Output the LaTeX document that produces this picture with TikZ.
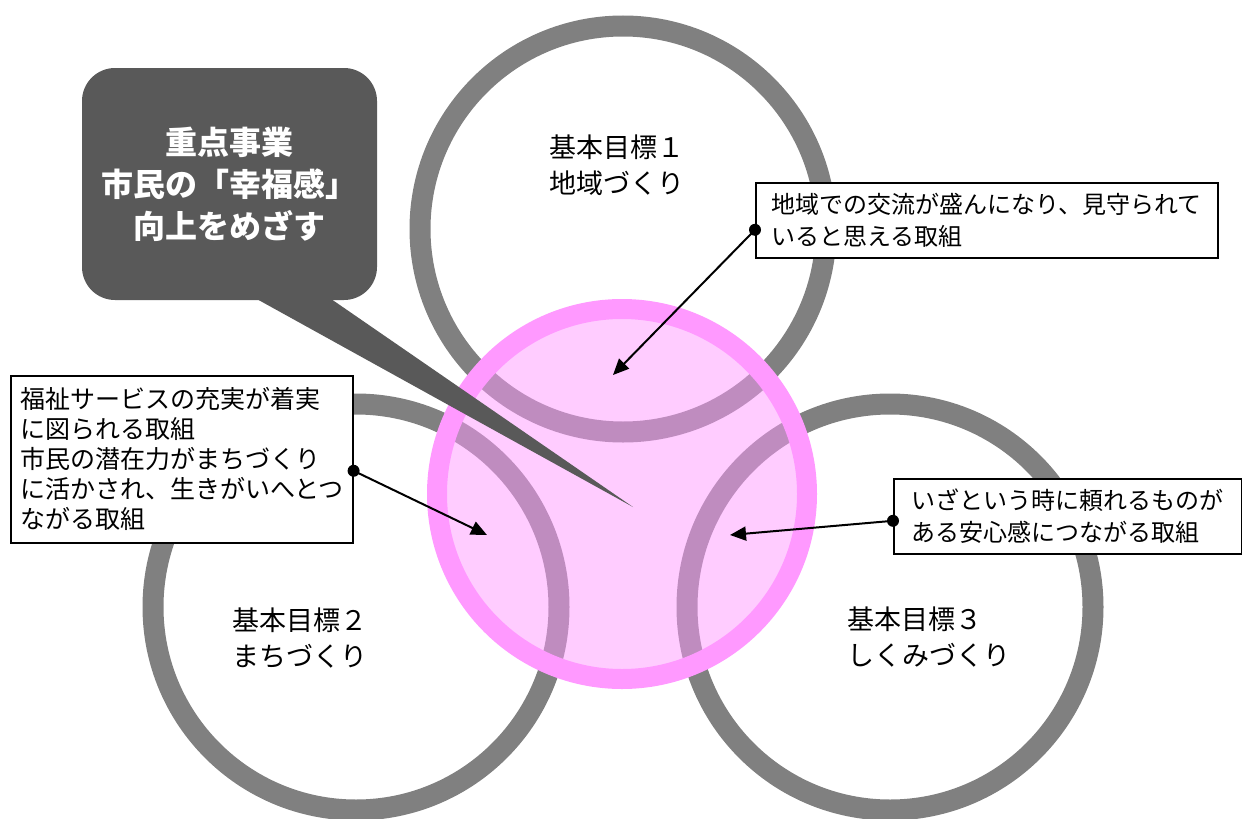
\documentclass[tikz,border=0pt]{standalone}
\usepackage{fontspec}
\setmainfont{Noto Sans CJK JP}
\usetikzlibrary{arrows.meta}
\definecolor{ringgray}{HTML}{808080}
\definecolor{coremag}{HTML}{FF99FF}
\definecolor{calloutgray}{HTML}{595959}

\begin{document}
\begin{tikzpicture}[
  x=1pt, y=-1pt,
  goalring/.style={
    circle, draw=ringgray, line width=21pt, minimum size=406pt, inner sep=0pt
  },
  goaltitle/.style={
    align=left, inner sep=0pt, font=\fontsize{27}{36}\selectfont
  },
  notebox/.style={
    rectangle, draw=black, line width=1.6pt, fill=white, align=left,
    anchor=north west, inner sep=0pt, font=\fontsize{24}{32}\selectfont
  },
  pointer/.style={-{Triangle[length=16pt,width=14pt]}, line width=2pt},
  pointerdot/.style={circle, fill=black, inner sep=0pt, minimum size=12pt},
]
\useasboundingbox (0,0) rectangle (1242,819);

% Goal rings
\node[goalring] (ringA) at (623,229) {};
\node[goalring] (ringB) at (356,607) {};
\node[goalring] (ringC) at (890,607) {};

% Core circle (transparent fill, opaque rim)
\node[circle, minimum size=370pt, inner sep=0pt, draw=coremag, line width=20pt,
      fill=coremag, fill opacity=0.5, draw opacity=1] (core) at (622,494) {};

% Callout with tail
\node[fill=calloutgray, rounded corners=33pt, minimum width=295pt,
      minimum height=232pt, text=white, align=center,
      font=\bfseries\fontsize{32}{42}\selectfont] (callout) at (229.5,184)
  {重点事業\\市民の「幸福感」\\向上をめざす};
\coordinate (tailtip) at (633,507);
\fill[calloutgray] ([xshift=24pt,yshift=3pt]callout.south) -- (tailtip)
  -- ([xshift=99pt,yshift=3pt]callout.south) -- cycle;

% Note boxes
\node[notebox, minimum width=462pt, minimum height=75pt] (noteA) at (755,182)
  {地域での交流が盛んになり、見守られて\\いると思える取組};
\node[notebox, minimum width=342pt, minimum height=167pt,
      font=\fontsize{25}{30}\selectfont] (noteB) at (10,375)
  {福祉サービスの充実が着実\\に図られる取組\\市民の潜在力がまちづくり\\に活かされ、生きがいへとつ\\ながる取組};
\node[notebox, minimum width=348pt, minimum height=75pt] (noteC) at (893,478)
  {いざという時に頼れるものが\\ある安心感につながる取組};

% Pointers into the core
\coordinate (tipA) at (613,375);
\coordinate (tipB) at (487,535);
\coordinate (tipC) at (730,535);
\draw[pointer] ([yshift=-9.5pt]noteA.west) -- (tipA);
\draw[pointer] ([yshift=-11.5pt]noteB.east) -- (tipB);
\draw[pointer] ([yshift=-4.5pt]noteC.west) -- (tipC);
\node[pointerdot] at ([yshift=-9.5pt]noteA.west) {};
\node[pointerdot] at ([yshift=-11.5pt]noteB.east) {};
\node[pointerdot] at ([yshift=-4.5pt]noteC.west) {};

% Goal titles
\node[goaltitle] (goalA) at (617,165) {基本目標１\\地域づくり};
\node[goaltitle] (goalB) at (300,638) {基本目標２\\まちづくり};
\node[goaltitle] (goalC) at (929,637) {基本目標３\\しくみづくり};

\end{tikzpicture}
\end{document}
